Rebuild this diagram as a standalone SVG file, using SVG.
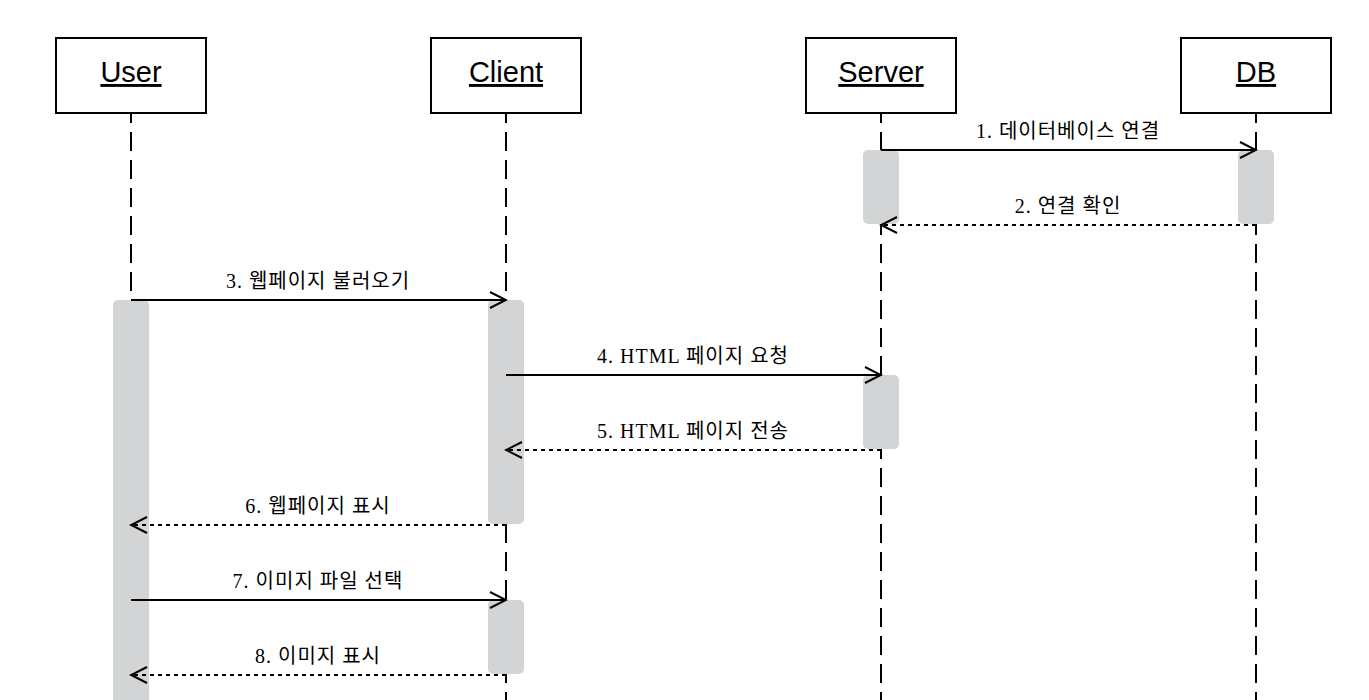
<svg xmlns="http://www.w3.org/2000/svg" width="1369" height="700" viewBox="0 0 1369 700">
<defs>
<style>
.box{fill:#fff;stroke:#000;stroke-width:2}
.title{font-family:"Liberation Sans",Arial,sans-serif;font-size:29px;text-decoration:underline;text-anchor:middle;fill:#000}
.life{stroke:#000;stroke-width:2;stroke-dasharray:19 9;stroke-dashoffset:9;fill:none}
.act{fill:#d3d4d6;stroke:none}
.msg{stroke:#000;stroke-width:2;fill:none}
.ret{stroke:#000;stroke-width:2;fill:none;stroke-dasharray:4 4}
.lbl{font-family:"Liberation Serif","Noto Sans CJK KR",serif;font-size:20px;letter-spacing:1px;text-anchor:middle;fill:#000}
</style>
<marker id="arr" viewBox="0 0 20 20" refX="18" refY="10" markerWidth="20" markerHeight="20" markerUnits="userSpaceOnUse" orient="auto">
<path d="M2,2 L18,10 L2,18" fill="none" stroke="#000" stroke-width="2"/>
</marker>
</defs>
<rect width="1369" height="700" fill="#fff"/>
<g id="lifelines">
<line class="life" x1="131" y1="113" x2="131" y2="700"/>
<line class="life" x1="506" y1="113" x2="506" y2="700"/>
<line class="life" x1="881" y1="113" x2="881" y2="700"/>
<line class="life" x1="1256" y1="113" x2="1256" y2="700"/>
</g>
<g id="user"><rect class="box" x="56" y="38" width="150" height="75"/><text class="title" x="131" y="82">User</text></g>
<g id="client"><rect class="box" x="431" y="38" width="150" height="75"/><text class="title" x="506" y="82">Client</text></g>
<g id="server"><rect class="box" x="806" y="38" width="150" height="75"/><text class="title" x="881" y="82">Server</text></g>
<g id="db"><rect class="box" x="1181" y="38" width="150" height="75"/><text class="title" x="1256" y="82">DB</text></g>
<g id="activations">
<rect class="act" x="113" y="300" width="36" height="420" rx="5"/>
<rect class="act" x="488" y="300" width="36" height="224" rx="5"/>
<rect class="act" x="488" y="600" width="36" height="74" rx="5"/>
<rect class="act" x="863" y="150" width="36" height="74" rx="5"/>
<rect class="act" x="863" y="375" width="36" height="74" rx="5"/>
<rect class="act" x="1238" y="150" width="36" height="74" rx="5"/>
</g>
<g id="connectors">
<line class="msg" x1="881" y1="150" x2="1256" y2="150" marker-end="url(#arr)"/>
<line class="ret" x1="1256" y1="225" x2="881" y2="225" marker-end="url(#arr)"/>
<line class="msg" x1="131" y1="300" x2="506" y2="300" marker-end="url(#arr)"/>
<line class="msg" x1="506" y1="375" x2="881" y2="375" marker-end="url(#arr)"/>
<line class="ret" x1="881" y1="450" x2="506" y2="450" marker-end="url(#arr)"/>
<line class="ret" x1="506" y1="525" x2="131" y2="525" marker-end="url(#arr)"/>
<line class="msg" x1="131" y1="600" x2="506" y2="600" marker-end="url(#arr)"/>
<line class="ret" x1="506" y1="675" x2="131" y2="675" marker-end="url(#arr)"/>
<text class="lbl" x="1068" y="138">1. 데이터베이스 연결</text>
<text class="lbl" x="1068" y="213">2. 연결 확인</text>
<text class="lbl" x="318" y="288">3. 웹페이지 불러오기</text>
<text class="lbl" x="693" y="363">4. HTML 페이지 요청</text>
<text class="lbl" x="693" y="438">5. HTML 페이지 전송</text>
<text class="lbl" x="318" y="513">6. 웹페이지 표시</text>
<text class="lbl" x="318" y="588">7. 이미지 파일 선택</text>
<text class="lbl" x="318" y="663">8. 이미지 표시</text>
</g>
</svg>
